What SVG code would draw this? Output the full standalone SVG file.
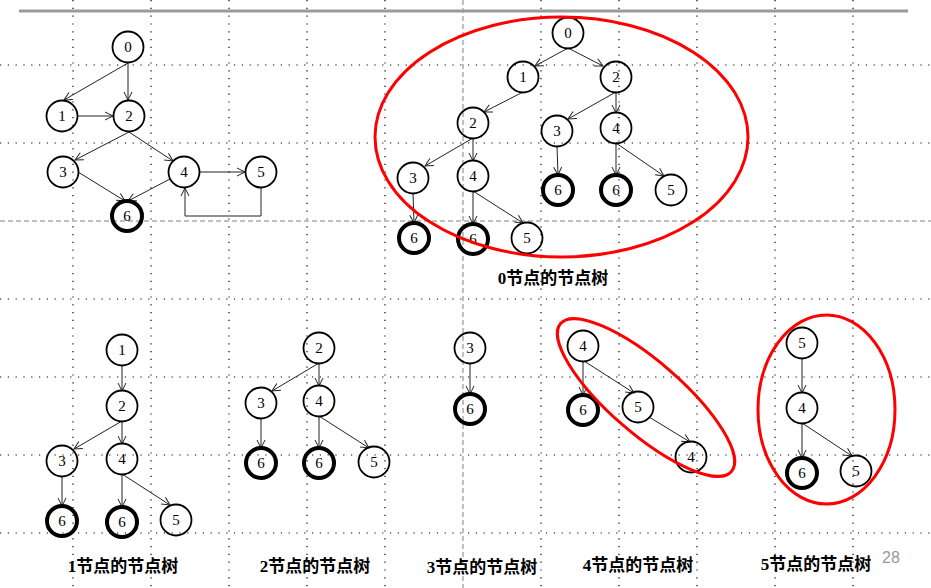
<svg xmlns="http://www.w3.org/2000/svg" width="931" height="588" viewBox="0 0 931 588">
<defs>
<style>
.dot{stroke:#000;stroke-width:1.2;stroke-dasharray:1.2 6.6;fill:none}
.dash{stroke:#808080;stroke-width:1;stroke-dasharray:5 3;fill:none}
.n circle{fill:none;stroke:#000;stroke-width:1.8}
.n.b circle{stroke-width:4}
.n text{font-family:"Liberation Serif",serif;font-size:15px;text-anchor:middle;fill:#000}
.e line,.e polyline{stroke:#222;stroke-width:1;fill:none;marker-end:url(#a)}
.ring{fill:none;stroke:#ff0000;stroke-width:3}
.lbl{font-family:"Liberation Serif","Noto Sans CJK SC",serif;font-weight:bold;font-size:17px;text-anchor:middle;fill:#000}
</style>
<marker id="a" markerWidth="10" markerHeight="10" refX="9" refY="5" orient="auto" markerUnits="userSpaceOnUse"><path d="M1,1 L9,5 L1,9" fill="none" stroke="#222" stroke-width="1"/></marker>
</defs>
<rect width="931" height="588" fill="#fff"/>
<g id="grid">
<path class="dot" d="M73,0V588M151,0V588M229,0V588M307,0V588M385,0V588M541,0V588M619,0V588M697,0V588M775,0V588M853,0V588"/>
<path class="dot" d="M0,65H931M0,143H931M0,299H931M0,377H931M0,455H931M0,533H931"/>
<path class="dash" d="M463,0V588M0,221H931"/>
<line x1="19" y1="11" x2="908" y2="11" stroke="#9a9a9a" stroke-width="3"/>
</g>
<g id="connectors" class="e">
<line x1="128" y1="63" x2="64" y2="100"/>
<line x1="128" y1="63" x2="128" y2="100"/>
<line x1="78" y1="116" x2="113" y2="116"/>
<line x1="129" y1="132" x2="75" y2="160"/>
<line x1="129" y1="132" x2="173" y2="161"/>
<line x1="78" y1="172" x2="125" y2="201"/>
<line x1="170" y1="179" x2="128" y2="201"/>
<line x1="200" y1="172" x2="245" y2="172"/>
<polyline points="261,188 261,216 185,216 185,188"/>
<line x1="568" y1="48" x2="535" y2="66"/>
<line x1="568" y1="48" x2="603" y2="66"/>
<line x1="523" y1="92" x2="484" y2="112"/>
<line x1="473" y1="138" x2="425" y2="166"/>
<line x1="473" y1="138" x2="473" y2="161"/>
<line x1="413" y1="193" x2="414" y2="223"/>
<line x1="473" y1="191" x2="473" y2="224"/>
<line x1="473" y1="191" x2="523" y2="223"/>
<line x1="616" y1="92" x2="568" y2="119"/>
<line x1="616" y1="92" x2="616" y2="113"/>
<line x1="557" y1="146" x2="558" y2="175"/>
<line x1="616" y1="143" x2="616" y2="175"/>
<line x1="616" y1="143" x2="664" y2="176"/>
<line x1="122" y1="365" x2="122" y2="391"/>
<line x1="122" y1="421" x2="74" y2="449"/>
<line x1="122" y1="421" x2="122" y2="444"/>
<line x1="62" y1="476" x2="62" y2="506"/>
<line x1="122" y1="474" x2="122" y2="507"/>
<line x1="122" y1="474" x2="170" y2="505"/>
<line x1="319" y1="363" x2="272" y2="391"/>
<line x1="319" y1="363" x2="319" y2="386"/>
<line x1="261" y1="418" x2="261" y2="448"/>
<line x1="319" y1="416" x2="319" y2="448"/>
<line x1="319" y1="416" x2="369" y2="448"/>
<line x1="470" y1="363" x2="470" y2="394"/>
<line x1="583" y1="361" x2="583" y2="395"/>
<line x1="584" y1="361" x2="634" y2="393"/>
<line x1="649" y1="417" x2="690" y2="442"/>
<line x1="802" y1="358" x2="802" y2="393"/>
<line x1="802" y1="423" x2="802" y2="458"/>
<line x1="802" y1="423" x2="852" y2="456"/>
</g>
<g id="g-0" class="n"><circle cx="128" cy="47" r="15.5"/><text x="128" y="52">0</text></g>
<g id="g-1" class="n"><circle cx="62" cy="116" r="15.5"/><text x="62" y="121">1</text></g>
<g id="g-2" class="n"><circle cx="129" cy="116" r="15.5"/><text x="129" y="121">2</text></g>
<g id="g-3" class="n"><circle cx="63" cy="172" r="15.5"/><text x="63" y="177">3</text></g>
<g id="g-4" class="n"><circle cx="184" cy="172" r="15.5"/><text x="184" y="177">4</text></g>
<g id="g-5" class="n"><circle cx="261" cy="172" r="15.5"/><text x="261" y="177">5</text></g>
<g id="g-6" class="n b"><circle cx="127" cy="216" r="15"/><text x="127" y="221">6</text></g>
<g id="t0-0" class="n"><circle cx="568" cy="33" r="15.5"/><text x="568" y="38">0</text></g>
<g id="t0-1" class="n"><circle cx="523" cy="77" r="15.5"/><text x="523" y="82">1</text></g>
<g id="t0-2r" class="n"><circle cx="616" cy="77" r="15.5"/><text x="616" y="82">2</text></g>
<g id="t0-2l" class="n"><circle cx="473" cy="123" r="15.5"/><text x="473" y="128">2</text></g>
<g id="t0-3r" class="n"><circle cx="557" cy="131" r="15.5"/><text x="557" y="136">3</text></g>
<g id="t0-4r" class="n"><circle cx="616" cy="128" r="15.5"/><text x="616" y="133">4</text></g>
<g id="t0-3l" class="n"><circle cx="413" cy="178" r="15.5"/><text x="413" y="183">3</text></g>
<g id="t0-4l" class="n"><circle cx="473" cy="176" r="15.5"/><text x="473" y="181">4</text></g>
<g id="t0-6a" class="n b"><circle cx="558" cy="190" r="15"/><text x="558" y="195">6</text></g>
<g id="t0-6b" class="n b"><circle cx="616" cy="190" r="15"/><text x="616" y="195">6</text></g>
<g id="t0-5a" class="n"><circle cx="671" cy="190" r="15.5"/><text x="671" y="195">5</text></g>
<g id="t0-6c" class="n b"><circle cx="414" cy="238" r="15"/><text x="414" y="243">6</text></g>
<g id="t0-6d" class="n b"><circle cx="473" cy="239" r="15"/><text x="473" y="244">6</text></g>
<g id="t0-5b" class="n"><circle cx="527" cy="238" r="15.5"/><text x="527" y="243">5</text></g>
<g id="t1-1" class="n"><circle cx="122" cy="350" r="15.5"/><text x="122" y="355">1</text></g>
<g id="t1-2" class="n"><circle cx="122" cy="406" r="15.5"/><text x="122" y="411">2</text></g>
<g id="t1-3" class="n"><circle cx="62" cy="461" r="15.5"/><text x="62" y="466">3</text></g>
<g id="t1-4" class="n"><circle cx="122" cy="459" r="15.5"/><text x="122" y="464">4</text></g>
<g id="t1-6a" class="n b"><circle cx="62" cy="521" r="15"/><text x="62" y="526">6</text></g>
<g id="t1-6b" class="n b"><circle cx="122" cy="522" r="15"/><text x="122" y="527">6</text></g>
<g id="t1-5" class="n"><circle cx="176" cy="520" r="15.5"/><text x="176" y="525">5</text></g>
<g id="t2-2" class="n"><circle cx="319" cy="348" r="15.5"/><text x="319" y="353">2</text></g>
<g id="t2-3" class="n"><circle cx="261" cy="403" r="15.5"/><text x="261" y="408">3</text></g>
<g id="t2-4" class="n"><circle cx="319" cy="401" r="15.5"/><text x="319" y="406">4</text></g>
<g id="t2-6a" class="n b"><circle cx="261" cy="463" r="15"/><text x="261" y="468">6</text></g>
<g id="t2-6b" class="n b"><circle cx="319" cy="463" r="15"/><text x="319" y="468">6</text></g>
<g id="t2-5" class="n"><circle cx="374" cy="462" r="15.5"/><text x="374" y="467">5</text></g>
<g id="t3-3" class="n"><circle cx="470" cy="348" r="15.5"/><text x="470" y="353">3</text></g>
<g id="t3-6" class="n b"><circle cx="470" cy="409" r="15"/><text x="470" y="414">6</text></g>
<g id="t4-4" class="n"><circle cx="583" cy="346" r="15.5"/><text x="583" y="351">4</text></g>
<g id="t4-6" class="n b"><circle cx="583" cy="410" r="15"/><text x="583" y="415">6</text></g>
<g id="t4-5" class="n"><circle cx="638" cy="407" r="15.5"/><text x="638" y="412">5</text></g>
<g id="t4-4b" class="n"><circle cx="691" cy="457" r="15.5"/><text x="691" y="462">4</text></g>
<g id="t5-5" class="n"><circle cx="802" cy="343" r="15.5"/><text x="802" y="348">5</text></g>
<g id="t5-4" class="n"><circle cx="802" cy="408" r="15.5"/><text x="802" y="413">4</text></g>
<g id="t5-6" class="n b"><circle cx="802" cy="473" r="15"/><text x="802" y="478">6</text></g>
<g id="t5-5b" class="n"><circle cx="856" cy="471" r="15.5"/><text x="856" y="476">5</text></g>
<g id="rings">
<ellipse class="ring" cx="561.5" cy="137" rx="186.5" ry="120"/>
<ellipse class="ring" cx="646" cy="397.5" rx="113" ry="36" transform="rotate(40.9 646 397.5)"/>
<ellipse class="ring" cx="826.5" cy="409.5" rx="68.5" ry="94.5"/>
</g>
<g id="labels">
<text class="lbl" x="553" y="284">0节点的节点树</text>
<text class="lbl" x="123" y="572">1节点的节点树</text>
<text class="lbl" x="315" y="572">2节点的节点树</text>
<text class="lbl" x="482" y="573">3节点的节点树</text>
<text class="lbl" x="638" y="571">4节点的节点树</text>
<text class="lbl" x="816" y="570">5节点的节点树</text>
<text x="882" y="563" font-family="'Liberation Sans',sans-serif" font-size="16" fill="#999">28</text>
</g>
</svg>
